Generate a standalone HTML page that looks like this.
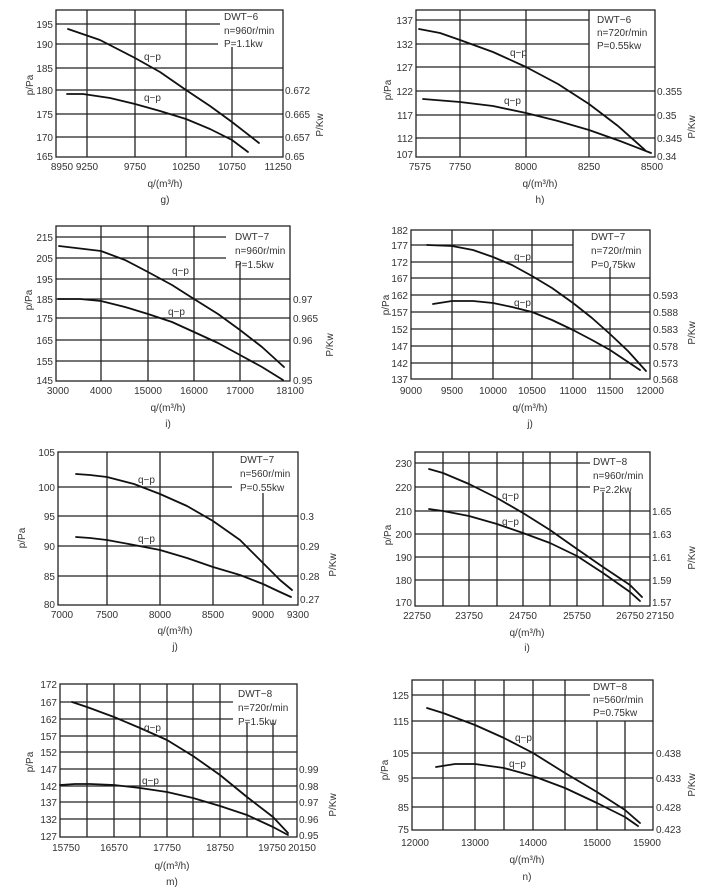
<!DOCTYPE html>
<html><head><meta charset="utf-8"><style>
html,body{margin:0;padding:0;background:#fff;}
svg{display:block;font-family:"Liberation Sans",sans-serif;font-size:10px;fill:#333;}
.g{stroke:#222;stroke-width:1.3;fill:none}
.c{stroke:#111;stroke-width:1.8;fill:none;stroke-linejoin:round;stroke-linecap:round}
.l{text-anchor:end}.m{text-anchor:middle}
</style></head><body>
<svg width="720" height="887" viewBox="0 0 720 887">
<!-- g -->
<g>
<rect class="g" x="56" y="10" width="227" height="147"/>
<path class="g" d="M56 24H220M56 44H218M56 68H283M56 90H283M56 114H283M56 137H283M87 10V157M135 10V157M186 10V157M232 47V157"/>
<polyline class="c" points="68,29 100,40 135,58 160,72 186,90 210,106 232,122 259,143"/>
<polyline class="c" points="67,94 83,94 110,98 135,104 160,111 186,119 210,129 232,140 248,152"/>
<text x="144" y="60">q−p</text><text x="144" y="101">q−p</text>
<text x="224" y="20">DWT−6</text><text x="224" y="34">n=960r/min</text><text x="224" y="47">P=1.1kw</text>
<g class="l"><text x="53" y="28">195</text><text x="53" y="48">190</text><text x="53" y="72">185</text><text x="53" y="94">180</text><text x="53" y="118">175</text><text x="53" y="141">170</text><text x="53" y="160">165</text></g>
<text x="285" y="94">0.672</text><text x="285" y="118">0.665</text><text x="285" y="141">0.657</text><text x="285" y="160">0.65</text>
<g class="m"><text x="62" y="170">8950</text><text x="87" y="170">9250</text><text x="135" y="170">9750</text><text x="186" y="170">10250</text><text x="232" y="170">10750</text><text x="278" y="170">11250</text>
<text x="165" y="187">q/(m³/h)</text><text x="165" y="203">g)</text></g>
<text class="m" transform="translate(33,85) rotate(-90)">p/Pa</text>
<text class="m" transform="translate(323,125) rotate(-90)">P/Kw</text>
</g>
<!-- h -->
<g>
<rect class="g" x="416" y="10" width="239" height="147"/>
<path class="g" d="M416 20H589M416 44H589M416 67H655M416 91H655M416 115H655M416 138H655M460 10V157M526 10V157M589 10V157"/>
<polyline class="c" points="419,29 440,33 460,40 493,52 526,67 558,84 589,104 618,126 645,150"/>
<polyline class="c" points="423,99 460,102 493,106 526,113 558,121 589,130 620,141 651,153"/>
<text x="510" y="56">q−p</text><text x="504" y="104">q−p</text>
<text x="597" y="23">DWT−6</text><text x="597" y="36">n=720r/min</text><text x="597" y="49">P=0.55kw</text>
<g class="l"><text x="413" y="24">137</text><text x="413" y="48">132</text><text x="413" y="71">127</text><text x="413" y="95">122</text><text x="413" y="119">117</text><text x="413" y="142">112</text><text x="413" y="158">107</text></g>
<text x="657" y="95">0.355</text><text x="657" y="119">0.35</text><text x="657" y="142">0.345</text><text x="657" y="160">0.34</text>
<g class="m"><text x="420" y="170">7575</text><text x="460" y="170">7750</text><text x="526" y="170">8000</text><text x="589" y="170">8250</text><text x="652" y="170">8500</text>
<text x="540" y="187">q/(m³/h)</text><text x="540" y="203">h)</text></g>
<text class="m" transform="translate(391,90) rotate(-90)">p/Pa</text>
<text class="m" transform="translate(695,127) rotate(-90)">P/Kw</text>
</g>
<!-- i -->
<g>
<rect class="g" x="56" y="226" width="234" height="155"/>
<path class="g" d="M56 237H226M56 258H226M56 279H290M56 299H290M56 318H290M56 340H290M56 361H290M101 226V381M148 226V381M194 226V381M240 263V381"/>
<polyline class="c" points="59,246 101,251 125,260 148,272 172,285 194,299 218,314 240,330 262,347 284,367"/>
<polyline class="c" points="58,299 80,299 101,301 125,307 148,314 172,322 194,332 218,343 240,355 262,367 283,380"/>
<text x="172" y="274">q−p</text><text x="168" y="315">q−p</text>
<text x="235" y="240">DWT−7</text><text x="235" y="254">n=960r/min</text><text x="235" y="268">P=1.5kw</text>
<g class="l"><text x="53" y="241">215</text><text x="53" y="262">205</text><text x="53" y="283">195</text><text x="53" y="303">185</text><text x="53" y="322">175</text><text x="53" y="344">165</text><text x="53" y="365">155</text><text x="53" y="384">145</text></g>
<text x="293" y="303">0.97</text><text x="293" y="322">0.965</text><text x="293" y="344">0.96</text><text x="293" y="384">0.95</text>
<g class="m"><text x="58" y="394">3000</text><text x="101" y="394">4000</text><text x="148" y="394">15000</text><text x="194" y="394">16000</text><text x="240" y="394">17000</text><text x="290" y="394">18100</text>
<text x="168" y="411">q/(m³/h)</text><text x="168" y="427">i)</text></g>
<text class="m" transform="translate(32,300) rotate(-90)">p/Pa</text>
<text class="m" transform="translate(333,345) rotate(-90)">P/Kw</text>
</g>
<!-- j -->
<g>
<rect class="g" x="411" y="230" width="239" height="149"/>
<path class="g" d="M411 245H573M411 262H573M411 278H650M411 295H650M411 312H650M411 329H650M411 346H650M411 363H650M452 230V379M493 230V379M532 230V379M573 230V379M610 268V379"/>
<polyline class="c" points="427,245 452,246 473,250 493,257 512,265 532,276 552,288 573,303 592,318 610,334 628,351 646,371"/>
<polyline class="c" points="433,304 452,301 473,301 493,303 512,307 532,312 552,320 573,330 592,340 610,350 625,360 640,370"/>
<text x="514" y="260">q−p</text><text x="514" y="306">q−p</text>
<text x="591" y="240">DWT−7</text><text x="591" y="254">n=720r/min</text><text x="591" y="268">P=0.75kw</text>
<g class="l"><text x="408" y="234">182</text><text x="408" y="249">177</text><text x="408" y="266">172</text><text x="408" y="282">167</text><text x="408" y="299">162</text><text x="408" y="316">157</text><text x="408" y="333">152</text><text x="408" y="350">147</text><text x="408" y="367">142</text><text x="408" y="383">137</text></g>
<text x="653" y="299">0.593</text><text x="653" y="316">0.588</text><text x="653" y="333">0.583</text><text x="653" y="350">0.578</text><text x="653" y="367">0.573</text><text x="653" y="383">0.568</text>
<g class="m"><text x="411" y="394">9000</text><text x="452" y="394">9500</text><text x="493" y="394">10000</text><text x="532" y="394">10500</text><text x="573" y="394">11000</text><text x="610" y="394">11500</text><text x="650" y="394">12000</text>
<text x="530" y="411">q/(m³/h)</text><text x="530" y="427">j)</text></g>
<text class="m" transform="translate(389,305) rotate(-90)">p/Pa</text>
<text class="m" transform="translate(695,333) rotate(-90)">P/Kw</text>
</g>
<!-- k -->
<g>
<rect class="g" x="58" y="452" width="240" height="153"/>
<path class="g" d="M58 487H232M58 516H298M58 546H298M58 576H298M107 452V605M160 452V605M213 452V605M263 493V605"/>
<polyline class="c" points="76,474 90,475 107,477 134,484 160,494 187,506 213,521 240,540 263,563 280,580 292,590"/>
<polyline class="c" points="76,537 90,538 107,540 134,545 160,550 187,558 213,567 240,575 263,584 280,592 291,597"/>
<text x="138" y="483">q−p</text><text x="138" y="542">q−p</text>
<text x="240" y="463">DWT−7</text><text x="240" y="477">n=560r/min</text><text x="240" y="491">P=0.55kw</text>
<g class="l"><text x="55" y="456">105</text><text x="55" y="491">100</text><text x="55" y="520">95</text><text x="55" y="550">90</text><text x="55" y="580">85</text><text x="55" y="608">80</text></g>
<text x="300" y="520">0.3</text><text x="300" y="550">0.29</text><text x="300" y="580">0.28</text><text x="300" y="603">0.27</text>
<g class="m"><text x="62" y="618">7000</text><text x="107" y="618">7500</text><text x="160" y="618">8000</text><text x="213" y="618">8500</text><text x="263" y="618">9000</text><text x="298" y="618">9300</text>
<text x="175" y="634">q/(m³/h)</text><text x="175" y="650">j)</text></g>
<text class="m" transform="translate(25,538) rotate(-90)">p/Pa</text>
<text class="m" transform="translate(336,565) rotate(-90)">P/Kw</text>
</g>
<!-- l -->
<g>
<rect class="g" x="415" y="452" width="235" height="154"/>
<path class="g" d="M415 463H590M415 487H590M415 511H650M415 534H650M415 557H650M415 580H650M443 452V606M469 452V606M497 452V606M523 452V606M550 452V606M577 452V606M603 492V606M630 492V606"/>
<polyline class="c" points="429,469 443,473 469,484 497,498 523,513 550,530 577,549 603,567 630,585 642,597"/>
<polyline class="c" points="429,509 443,511 469,516 497,524 523,533 550,543 577,556 603,573 630,592 640,601"/>
<text x="502" y="499">q−p</text><text x="502" y="525">q−p</text>
<text x="593" y="465">DWT−8</text><text x="593" y="479">n=960r/min</text><text x="593" y="493">P=2.2kw</text>
<g class="l"><text x="412" y="467">230</text><text x="412" y="491">220</text><text x="412" y="515">210</text><text x="412" y="538">200</text><text x="412" y="561">190</text><text x="412" y="584">180</text><text x="412" y="606">170</text></g>
<text x="652" y="515">1.65</text><text x="652" y="538">1.63</text><text x="652" y="561">1.61</text><text x="652" y="584">1.59</text><text x="652" y="606">1.57</text>
<g class="m"><text x="417" y="619">22750</text><text x="469" y="619">23750</text><text x="523" y="619">24750</text><text x="577" y="619">25750</text><text x="630" y="619">26750</text><text x="660" y="619">27150</text>
<text x="527" y="636">q/(m³/h)</text><text x="527" y="651">i)</text></g>
<text class="m" transform="translate(391,535) rotate(-90)">p/Pa</text>
<text class="m" transform="translate(695,558) rotate(-90)">P/Kw</text>
</g>
<!-- m -->
<g>
<rect class="g" x="60" y="684" width="237" height="153"/>
<path class="g" d="M60 702H233M60 719H233M60 736H297M60 752H297M60 769H297M60 786H297M60 802H297M60 819H297M87 684V837M114 684V837M140 684V837M167 684V837M193 684V837M220 684V837M247 723V837M273 723V837"/>
<polyline class="c" points="72,702 87,707 114,717 140,728 167,740 193,756 220,775 247,797 273,817 288,833"/>
<polyline class="c" points="60,785 75,784 90,784 114,785 140,788 167,792 193,798 220,806 247,815 273,827 288,835"/>
<text x="144" y="731">q−p</text><text x="142" y="784">q−p</text>
<text x="238" y="697">DWT−8</text><text x="238" y="711">n=720r/min</text><text x="238" y="725">P=1.5kw</text>
<g class="l"><text x="57" y="688">172</text><text x="57" y="706">167</text><text x="57" y="723">162</text><text x="57" y="740">157</text><text x="57" y="756">152</text><text x="57" y="773">147</text><text x="57" y="790">142</text><text x="57" y="806">137</text><text x="57" y="823">132</text><text x="57" y="840">127</text></g>
<text x="299" y="773">0.99</text><text x="299" y="790">0.98</text><text x="299" y="806">0.97</text><text x="299" y="823">0.96</text><text x="299" y="839">0.95</text>
<g class="m"><text x="66" y="851">15750</text><text x="114" y="851">16570</text><text x="167" y="851">17750</text><text x="220" y="851">18750</text><text x="272" y="851">19750</text><text x="302" y="851">20150</text>
<text x="172" y="869">q/(m³/h)</text><text x="172" y="885">m)</text></g>
<text class="m" transform="translate(33,762) rotate(-90)">p/Pa</text>
<text class="m" transform="translate(336,805) rotate(-90)">P/Kw</text>
</g>
<!-- n -->
<g>
<rect class="g" x="412" y="680" width="241" height="150"/>
<path class="g" d="M412 695H590M412 721H653M412 753H653M412 778H653M412 807H653M443 680V830M475 680V830M504 680V830M533 680V830M565 680V830M597 721V830M625 721V830"/>
<polyline class="c" points="427,708 443,713 475,725 504,738 533,753 565,773 597,792 625,810 640,823"/>
<polyline class="c" points="436,767 455,764 475,764 504,768 533,776 565,788 597,803 625,817 638,826"/>
<text x="515" y="741">q−p</text><text x="509" y="767">q−p</text>
<text x="593" y="690">DWT−8</text><text x="593" y="703">n=560r/min</text><text x="593" y="716">P=0.75kw</text>
<g class="l"><text x="409" y="699">125</text><text x="409" y="725">115</text><text x="409" y="757">105</text><text x="409" y="782">95</text><text x="409" y="811">85</text><text x="409" y="833">75</text></g>
<text x="656" y="757">0.438</text><text x="656" y="782">0.433</text><text x="656" y="811">0.428</text><text x="656" y="833">0.423</text>
<g class="m"><text x="415" y="846">12000</text><text x="475" y="846">13000</text><text x="533" y="846">14000</text><text x="597" y="846">15000</text><text x="647" y="846">15900</text>
<text x="527" y="863">q/(m³/h)</text><text x="527" y="880">n)</text></g>
<text class="m" transform="translate(388,770) rotate(-90)">p/Pa</text>
<text class="m" transform="translate(695,785) rotate(-90)">P/Kw</text>
</g>
</svg>
</body></html>
